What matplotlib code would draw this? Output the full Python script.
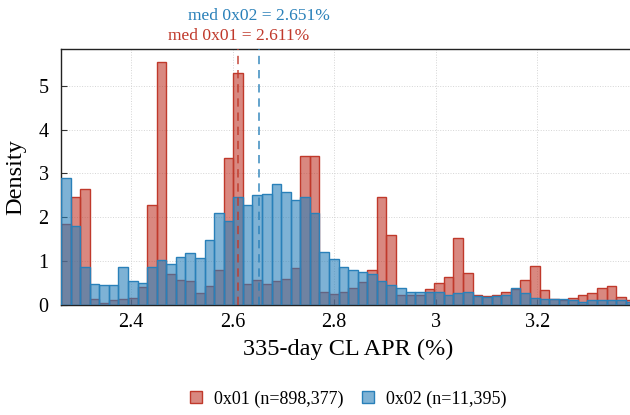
"""
Histogram of 335-day CL APR for two groups, with medians.
"""
import numpy as np
import matplotlib
matplotlib.use("Agg")
import matplotlib.pyplot as plt
from matplotlib.colors import to_rgba
from matplotlib.transforms import blended_transform_factory

plt.rcParams['font.family'] = ['Liberation Serif', 'DejaVu Serif']

# bin layout (60 common bins)
bin_lo = 2.2622
bin_hi = 3.3926
n_bins = 60

# density per bin
dens_01 = [1.85, 2.47, 2.65, 0.14, 0.05, 0.11, 0.14, 0.16, 0.41, 2.28,
           5.54, 0.71, 0.56, 0.54, 0.27, 0.43, 0.80, 3.35, 5.29, 0.47,
           0.57, 0.49, 0.55, 0.59, 0.84, 3.41, 3.39, 0.29, 0.24, 0.29,
           0.38, 0.52, 0.80, 2.46, 1.59, 0.22, 0.22, 0.22, 0.36, 0.50,
           0.64, 1.53, 0.72, 0.22, 0.20, 0.23, 0.29, 0.37, 0.57, 0.88,
           0.35, 0.13, 0.12, 0.15, 0.22, 0.27, 0.38, 0.44, 0.18, 0.11]
dens_02 = [2.89, 1.80, 0.86, 0.48, 0.45, 0.45, 0.87, 0.54, 0.51, 0.86,
           1.02, 0.94, 1.10, 1.18, 1.08, 1.48, 2.09, 1.91, 2.46, 2.28,
           2.51, 2.53, 2.75, 2.57, 2.40, 2.46, 2.10, 1.21, 1.06, 0.86,
           0.80, 0.75, 0.70, 0.54, 0.45, 0.38, 0.30, 0.29, 0.29, 0.30,
           0.23, 0.27, 0.30, 0.20, 0.18, 0.21, 0.23, 0.39, 0.27, 0.17,
           0.13, 0.14, 0.13, 0.12, 0.07, 0.11, 0.11, 0.11, 0.11, 0.07]

med_01 = 2.611
med_02 = 2.651
label_01 = '0x01 (n=898,377)'
label_02 = '0x02 (n=11,395)'

xticks = [2.4, 2.6, 2.8, 3.0, 3.2]
xticklabels = ['2.4', '2.6', '2.8', '3', '3.2']
yticks = [0, 1, 2, 3, 4, 5]

c_red = '#c0392b'
c_blue = '#2980b9'

edges = np.linspace(bin_lo, bin_hi, n_bins + 1)
bw = edges[1] - edges[0]

fig = plt.figure(figsize=(6.3, 4.15), dpi=100)
# axes run slightly past the right edge, like the cropped original
ax = fig.add_axes([61 / 630, 110 / 415, 574.3 / 630, 256 / 415])

ax.bar(edges[:-1], dens_01, width=bw, align='edge',
       facecolor=to_rgba(c_red, 0.6), edgecolor=c_red, linewidth=1.0,
       label=label_01, zorder=2)
ax.bar(edges[:-1], dens_02, width=bw, align='edge',
       facecolor=to_rgba(c_blue, 0.6), edgecolor=c_blue, linewidth=1.0,
       label=label_02, zorder=3)

ax.axvline(med_01, color=c_red, ls=(0, (5, 3.5)), lw=1.2, alpha=0.85, zorder=4)
ax.axvline(med_02, color=c_blue, ls=(0, (5, 3.5)), lw=1.2, alpha=0.85, zorder=4)

tr = blended_transform_factory(ax.transData, ax.transAxes)
ax.text(med_01, 1.035, 'med 0x01 = %.3f%%' % med_01, color=c_red,
        ha='center', va='baseline', fontsize=12.6, transform=tr)
ax.text(med_02, 1.113, 'med 0x02 = %.3f%%' % med_02, color=c_blue,
        ha='center', va='baseline', fontsize=12.6, transform=tr)

ax.set_xlim(bin_lo, bin_hi)
ax.set_ylim(0, 5.84)
ax.set_xticks(xticks)
ax.set_xticklabels(xticklabels)
ax.set_yticks(yticks)
ax.tick_params(axis='both', direction='in', length=4, width=0.8,
               color='#333333', labelsize=14.5)
ax.tick_params(axis='x', pad=5.5)
ax.tick_params(axis='y', pad=9)
ax.grid(True, ls=':', lw=0.7, color='#d5d5d5', zorder=0)
ax.set_axisbelow(True)
for s in ['left', 'bottom', 'top']:
    ax.spines[s].set_linewidth(1.0)
    ax.spines[s].set_color('#222222')
ax.spines['right'].set_visible(False)

ax.set_xlabel('335-day CL APR (%)', fontsize=17.5, labelpad=5)
ax.set_ylabel('Density', fontsize=17.5, labelpad=9)

ax.legend(loc='center', bbox_to_anchor=(0.5, -0.367), ncol=2, frameon=False,
          fontsize=13, handlelength=0.67, handleheight=0.67,
          handletextpad=0.65, columnspacing=1.0)

fig.savefig('out.png', dpi=100)
